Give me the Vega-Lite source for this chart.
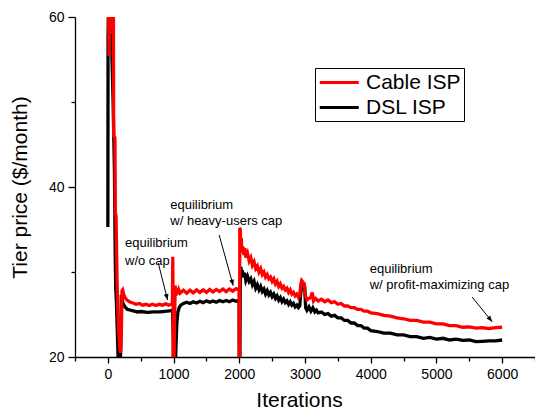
{
  "$schema": "https://vega.github.io/schema/vega-lite/v6.json",
  "width": 460,
  "height": 340,
  "autosize": {"type": "none"},
  "padding": {"left": 75, "top": 17, "right": 0, "bottom": 58},
  "background": "white",
  "config": {
    "view": {"stroke": null},
    "font": "Liberation Sans",
    "axis": {
      "grid": false,
      "domainColor": "#000",
      "domainWidth": 1.3,
      "tickColor": "#000",
      "tickWidth": 1.3,
      "labelColor": "#000",
      "labelFont": "Liberation Sans",
      "labelFontSize": 14,
      "titleFont": "Liberation Sans",
      "titleFontSize": 21,
      "titleFontWeight": "normal",
      "titleColor": "#000",
      "labelOverlap": false,
      "labelFlush": false
    }
  },
  "datasets": {
    "series": [
      {"s": "DSL ISP", "x": 0, "y": 35.3}, {"s": "DSL ISP", "x": 3, "y": 57.4}, {"s": "DSL ISP", "x": 8, "y": 61}, {"s": "DSL ISP", "x": 20, "y": 60}, {"s": "DSL ISP", "x": 40, "y": 58}, {"s": "DSL ISP", "x": 60, "y": 56}, {"s": "DSL ISP", "x": 80, "y": 50}, {"s": "DSL ISP", "x": 100, "y": 42}, {"s": "DSL ISP", "x": 112, "y": 32}, {"s": "DSL ISP", "x": 120, "y": 28.1}, {"s": "DSL ISP", "x": 130, "y": 26.5}, {"s": "DSL ISP", "x": 140, "y": 24}, {"s": "DSL ISP", "x": 150, "y": 21.5}, {"s": "DSL ISP", "x": 160, "y": 19}, {"s": "DSL ISP", "x": 175, "y": 18.5}, {"s": "DSL ISP", "x": 190, "y": 19.5}, {"s": "DSL ISP", "x": 198, "y": 22}, {"s": "DSL ISP", "x": 205, "y": 27.3}, {"s": "DSL ISP", "x": 215, "y": 26.8}, {"s": "DSL ISP", "x": 230, "y": 26.3}, {"s": "DSL ISP", "x": 260, "y": 25.9}, {"s": "DSL ISP", "x": 300, "y": 25.6}, {"s": "DSL ISP", "x": 350, "y": 25.5}, {"s": "DSL ISP", "x": 400, "y": 25.4}, {"s": "DSL ISP", "x": 450, "y": 25.3}, {"s": "DSL ISP", "x": 500, "y": 25.35}, {"s": "DSL ISP", "x": 600, "y": 25.25}, {"s": "DSL ISP", "x": 700, "y": 25.3}, {"s": "DSL ISP", "x": 800, "y": 25.3}, {"s": "DSL ISP", "x": 900, "y": 25.4}, {"s": "DSL ISP", "x": 960, "y": 25.45}, {"s": "DSL ISP", "x": 985, "y": 25.5}, {"s": "DSL ISP", "x": 995, "y": 22}, {"s": "DSL ISP", "x": 1000, "y": 17}, {"s": "DSL ISP", "x": 1020, "y": 17}, {"s": "DSL ISP", "x": 1035, "y": 21}, {"s": "DSL ISP", "x": 1050, "y": 24}, {"s": "DSL ISP", "x": 1065, "y": 25.3}, {"s": "DSL ISP", "x": 1085, "y": 25.8}, {"s": "DSL ISP", "x": 1110, "y": 26.1}, {"s": "DSL ISP", "x": 1150, "y": 26.3}, {"s": "DSL ISP", "x": 1200, "y": 26.45}, {"s": "DSL ISP", "x": 1250, "y": 26.3}, {"s": "DSL ISP", "x": 1300, "y": 26.5}, {"s": "DSL ISP", "x": 1350, "y": 26.35}, {"s": "DSL ISP", "x": 1400, "y": 26.55}, {"s": "DSL ISP", "x": 1450, "y": 26.4}, {"s": "DSL ISP", "x": 1500, "y": 26.6}, {"s": "DSL ISP", "x": 1550, "y": 26.45}, {"s": "DSL ISP", "x": 1600, "y": 26.6}, {"s": "DSL ISP", "x": 1650, "y": 26.45}, {"s": "DSL ISP", "x": 1700, "y": 26.65}, {"s": "DSL ISP", "x": 1750, "y": 26.5}, {"s": "DSL ISP", "x": 1800, "y": 26.65}, {"s": "DSL ISP", "x": 1850, "y": 26.5}, {"s": "DSL ISP", "x": 1900, "y": 26.7}, {"s": "DSL ISP", "x": 1950, "y": 26.55}, {"s": "DSL ISP", "x": 1990, "y": 26.65}, {"s": "DSL ISP", "x": 1998, "y": 26.6}, {"s": "DSL ISP", "x": 2000, "y": 18}, {"s": "DSL ISP", "x": 2008, "y": 18}, {"s": "DSL ISP", "x": 2015, "y": 28.5}, {"s": "DSL ISP", "x": 2025, "y": 30.6}, {"s": "DSL ISP", "x": 2035, "y": 29.6}, {"s": "DSL ISP", "x": 2045, "y": 30.2}, {"s": "DSL ISP", "x": 2060, "y": 29.4}, {"s": "DSL ISP", "x": 2080, "y": 29.9}, {"s": "DSL ISP", "x": 2100, "y": 29.0}, {"s": "DSL ISP", "x": 2125, "y": 29.5}, {"s": "DSL ISP", "x": 2150, "y": 28.9}, {"s": "DSL ISP", "x": 2175, "y": 29.2}, {"s": "DSL ISP", "x": 2200, "y": 28.5}, {"s": "DSL ISP", "x": 2225, "y": 28.9}, {"s": "DSL ISP", "x": 2250, "y": 28.1}, {"s": "DSL ISP", "x": 2275, "y": 28.5}, {"s": "DSL ISP", "x": 2300, "y": 27.9}, {"s": "DSL ISP", "x": 2325, "y": 28.3}, {"s": "DSL ISP", "x": 2350, "y": 27.7}, {"s": "DSL ISP", "x": 2375, "y": 28.0}, {"s": "DSL ISP", "x": 2400, "y": 27.4}, {"s": "DSL ISP", "x": 2425, "y": 27.8}, {"s": "DSL ISP", "x": 2450, "y": 27.3}, {"s": "DSL ISP", "x": 2475, "y": 27.6}, {"s": "DSL ISP", "x": 2500, "y": 27.1}, {"s": "DSL ISP", "x": 2525, "y": 27.4}, {"s": "DSL ISP", "x": 2550, "y": 26.9}, {"s": "DSL ISP", "x": 2575, "y": 27.2}, {"s": "DSL ISP", "x": 2600, "y": 26.7}, {"s": "DSL ISP", "x": 2625, "y": 27.0}, {"s": "DSL ISP", "x": 2650, "y": 26.5}, {"s": "DSL ISP", "x": 2675, "y": 26.8}, {"s": "DSL ISP", "x": 2700, "y": 26.4}, {"s": "DSL ISP", "x": 2725, "y": 26.6}, {"s": "DSL ISP", "x": 2750, "y": 26.2}, {"s": "DSL ISP", "x": 2775, "y": 26.5}, {"s": "DSL ISP", "x": 2800, "y": 26.1}, {"s": "DSL ISP", "x": 2825, "y": 26.3}, {"s": "DSL ISP", "x": 2850, "y": 25.9}, {"s": "DSL ISP", "x": 2875, "y": 26.1}, {"s": "DSL ISP", "x": 2900, "y": 25.8}, {"s": "DSL ISP", "x": 2920, "y": 26.0}, {"s": "DSL ISP", "x": 2935, "y": 27.5}, {"s": "DSL ISP", "x": 2950, "y": 28.3}, {"s": "DSL ISP", "x": 2975, "y": 28.4}, {"s": "DSL ISP", "x": 2995, "y": 28.2}, {"s": "DSL ISP", "x": 3010, "y": 25.8}, {"s": "DSL ISP", "x": 3030, "y": 25.5}, {"s": "DSL ISP", "x": 3060, "y": 25.9}, {"s": "DSL ISP", "x": 3090, "y": 25.4}, {"s": "DSL ISP", "x": 3120, "y": 25.8}, {"s": "DSL ISP", "x": 3150, "y": 25.3}, {"s": "DSL ISP", "x": 3175, "y": 25.5}, {"s": "DSL ISP", "x": 3200, "y": 25.2}, {"s": "DSL ISP", "x": 3250, "y": 25.3}, {"s": "DSL ISP", "x": 3300, "y": 25.0}, {"s": "DSL ISP", "x": 3350, "y": 25.1}, {"s": "DSL ISP", "x": 3400, "y": 24.8}, {"s": "DSL ISP", "x": 3450, "y": 24.9}, {"s": "DSL ISP", "x": 3500, "y": 24.6}, {"s": "DSL ISP", "x": 3550, "y": 24.6}, {"s": "DSL ISP", "x": 3600, "y": 24.3}, {"s": "DSL ISP", "x": 3650, "y": 24.3}, {"s": "DSL ISP", "x": 3700, "y": 24.0}, {"s": "DSL ISP", "x": 3750, "y": 24.0}, {"s": "DSL ISP", "x": 3800, "y": 23.7}, {"s": "DSL ISP", "x": 3850, "y": 23.7}, {"s": "DSL ISP", "x": 3900, "y": 23.4}, {"s": "DSL ISP", "x": 3950, "y": 23.4}, {"s": "DSL ISP", "x": 4000, "y": 23.1}, {"s": "DSL ISP", "x": 4100, "y": 23.0}, {"s": "DSL ISP", "x": 4200, "y": 22.8}, {"s": "DSL ISP", "x": 4300, "y": 22.8}, {"s": "DSL ISP", "x": 4400, "y": 22.6}, {"s": "DSL ISP", "x": 4500, "y": 22.6}, {"s": "DSL ISP", "x": 4600, "y": 22.4}, {"s": "DSL ISP", "x": 4700, "y": 22.4}, {"s": "DSL ISP", "x": 4800, "y": 22.2}, {"s": "DSL ISP", "x": 4900, "y": 22.3}, {"s": "DSL ISP", "x": 5000, "y": 22.1}, {"s": "DSL ISP", "x": 5100, "y": 22.2}, {"s": "DSL ISP", "x": 5200, "y": 22.0}, {"s": "DSL ISP", "x": 5300, "y": 22.1}, {"s": "DSL ISP", "x": 5400, "y": 21.95}, {"s": "DSL ISP", "x": 5500, "y": 22.0}, {"s": "DSL ISP", "x": 5600, "y": 21.8}, {"s": "DSL ISP", "x": 5700, "y": 21.85}, {"s": "DSL ISP", "x": 5800, "y": 21.9}, {"s": "DSL ISP", "x": 5900, "y": 21.9}, {"s": "DSL ISP", "x": 6000, "y": 22.0},

      {"s": "Cable ISP", "x": 10, "y": 62}, {"s": "Cable ISP", "x": 18, "y": 55.4}, {"s": "Cable ISP", "x": 26, "y": 62}, {"s": "Cable ISP", "x": 40, "y": 63}, {"s": "Cable ISP", "x": 55, "y": 58}, {"s": "Cable ISP", "x": 62, "y": 63}, {"s": "Cable ISP", "x": 75, "y": 62}, {"s": "Cable ISP", "x": 85, "y": 60}, {"s": "Cable ISP", "x": 88, "y": 46}, {"s": "Cable ISP", "x": 108, "y": 45.8}, {"s": "Cable ISP", "x": 113, "y": 37}, {"s": "Cable ISP", "x": 125, "y": 36.5}, {"s": "Cable ISP", "x": 132, "y": 33}, {"s": "Cable ISP", "x": 140, "y": 29}, {"s": "Cable ISP", "x": 150, "y": 26}, {"s": "Cable ISP", "x": 160, "y": 24}, {"s": "Cable ISP", "x": 172, "y": 22}, {"s": "Cable ISP", "x": 185, "y": 20.8}, {"s": "Cable ISP", "x": 195, "y": 20.5}, {"s": "Cable ISP", "x": 205, "y": 22.5}, {"s": "Cable ISP", "x": 215, "y": 27.8}, {"s": "Cable ISP", "x": 225, "y": 27.9}, {"s": "Cable ISP", "x": 240, "y": 27.4}, {"s": "Cable ISP", "x": 260, "y": 27.0}, {"s": "Cable ISP", "x": 290, "y": 26.7}, {"s": "Cable ISP", "x": 330, "y": 26.5}, {"s": "Cable ISP", "x": 380, "y": 26.35}, {"s": "Cable ISP", "x": 430, "y": 26.2}, {"s": "Cable ISP", "x": 480, "y": 26.3}, {"s": "Cable ISP", "x": 530, "y": 26.1}, {"s": "Cable ISP", "x": 580, "y": 26.2}, {"s": "Cable ISP", "x": 630, "y": 26.05}, {"s": "Cable ISP", "x": 680, "y": 26.2}, {"s": "Cable ISP", "x": 730, "y": 26.05}, {"s": "Cable ISP", "x": 780, "y": 26.2}, {"s": "Cable ISP", "x": 830, "y": 26.1}, {"s": "Cable ISP", "x": 880, "y": 26.25}, {"s": "Cable ISP", "x": 930, "y": 26.1}, {"s": "Cable ISP", "x": 970, "y": 26.25}, {"s": "Cable ISP", "x": 982, "y": 26.3}, {"s": "Cable ISP", "x": 988, "y": 31.8}, {"s": "Cable ISP", "x": 993, "y": 26}, {"s": "Cable ISP", "x": 997, "y": 18}, {"s": "Cable ISP", "x": 1005, "y": 18}, {"s": "Cable ISP", "x": 1015, "y": 24}, {"s": "Cable ISP", "x": 1025, "y": 28.4}, {"s": "Cable ISP", "x": 1035, "y": 27.2}, {"s": "Cable ISP", "x": 1050, "y": 28.1}, {"s": "Cable ISP", "x": 1065, "y": 27.4}, {"s": "Cable ISP", "x": 1080, "y": 27.9}, {"s": "Cable ISP", "x": 1100, "y": 27.5}, {"s": "Cable ISP", "x": 1150, "y": 27.85}, {"s": "Cable ISP", "x": 1200, "y": 27.5}, {"s": "Cable ISP", "x": 1250, "y": 27.85}, {"s": "Cable ISP", "x": 1300, "y": 27.55}, {"s": "Cable ISP", "x": 1350, "y": 27.9}, {"s": "Cable ISP", "x": 1400, "y": 27.6}, {"s": "Cable ISP", "x": 1450, "y": 27.9}, {"s": "Cable ISP", "x": 1500, "y": 27.6}, {"s": "Cable ISP", "x": 1550, "y": 27.95}, {"s": "Cable ISP", "x": 1600, "y": 27.65}, {"s": "Cable ISP", "x": 1650, "y": 27.95}, {"s": "Cable ISP", "x": 1700, "y": 27.7}, {"s": "Cable ISP", "x": 1750, "y": 28.0}, {"s": "Cable ISP", "x": 1800, "y": 27.7}, {"s": "Cable ISP", "x": 1850, "y": 28.0}, {"s": "Cable ISP", "x": 1900, "y": 27.75}, {"s": "Cable ISP", "x": 1950, "y": 28.05}, {"s": "Cable ISP", "x": 1990, "y": 27.9}, {"s": "Cable ISP", "x": 1996, "y": 27.9}, {"s": "Cable ISP", "x": 2000, "y": 18}, {"s": "Cable ISP", "x": 2004, "y": 18}, {"s": "Cable ISP", "x": 2008, "y": 35.2}, {"s": "Cable ISP", "x": 2015, "y": 35.0}, {"s": "Cable ISP", "x": 2022, "y": 33.2}, {"s": "Cable ISP", "x": 2030, "y": 34.0}, {"s": "Cable ISP", "x": 2040, "y": 32.3}, {"s": "Cable ISP", "x": 2055, "y": 33.0}, {"s": "Cable ISP", "x": 2070, "y": 32.0}, {"s": "Cable ISP", "x": 2085, "y": 32.8}, {"s": "Cable ISP", "x": 2100, "y": 31.7}, {"s": "Cable ISP", "x": 2125, "y": 32.2}, {"s": "Cable ISP", "x": 2150, "y": 31.3}, {"s": "Cable ISP", "x": 2175, "y": 31.7}, {"s": "Cable ISP", "x": 2200, "y": 30.8}, {"s": "Cable ISP", "x": 2225, "y": 31.2}, {"s": "Cable ISP", "x": 2250, "y": 30.4}, {"s": "Cable ISP", "x": 2275, "y": 30.7}, {"s": "Cable ISP", "x": 2300, "y": 30.0}, {"s": "Cable ISP", "x": 2325, "y": 30.4}, {"s": "Cable ISP", "x": 2350, "y": 29.7}, {"s": "Cable ISP", "x": 2375, "y": 30.0}, {"s": "Cable ISP", "x": 2400, "y": 29.4}, {"s": "Cable ISP", "x": 2425, "y": 29.7}, {"s": "Cable ISP", "x": 2450, "y": 29.2}, {"s": "Cable ISP", "x": 2475, "y": 29.4}, {"s": "Cable ISP", "x": 2500, "y": 28.9}, {"s": "Cable ISP", "x": 2525, "y": 29.2}, {"s": "Cable ISP", "x": 2550, "y": 28.6}, {"s": "Cable ISP", "x": 2575, "y": 28.9}, {"s": "Cable ISP", "x": 2600, "y": 28.3}, {"s": "Cable ISP", "x": 2625, "y": 28.6}, {"s": "Cable ISP", "x": 2650, "y": 28.1}, {"s": "Cable ISP", "x": 2675, "y": 28.3}, {"s": "Cable ISP", "x": 2700, "y": 27.9}, {"s": "Cable ISP", "x": 2725, "y": 28.1}, {"s": "Cable ISP", "x": 2750, "y": 27.6}, {"s": "Cable ISP", "x": 2775, "y": 27.9}, {"s": "Cable ISP", "x": 2800, "y": 27.4}, {"s": "Cable ISP", "x": 2825, "y": 27.6}, {"s": "Cable ISP", "x": 2850, "y": 27.2}, {"s": "Cable ISP", "x": 2875, "y": 27.4}, {"s": "Cable ISP", "x": 2900, "y": 27.0}, {"s": "Cable ISP", "x": 2920, "y": 27.2}, {"s": "Cable ISP", "x": 2935, "y": 28.5}, {"s": "Cable ISP", "x": 2950, "y": 29.0}, {"s": "Cable ISP", "x": 2970, "y": 28.8}, {"s": "Cable ISP", "x": 2990, "y": 28.6}, {"s": "Cable ISP", "x": 3005, "y": 27.2}, {"s": "Cable ISP", "x": 3030, "y": 26.7}, {"s": "Cable ISP", "x": 3060, "y": 26.9}, {"s": "Cable ISP", "x": 3090, "y": 27.0}, {"s": "Cable ISP", "x": 3110, "y": 27.6}, {"s": "Cable ISP", "x": 3130, "y": 26.6}, {"s": "Cable ISP", "x": 3160, "y": 26.9}, {"s": "Cable ISP", "x": 3200, "y": 26.6}, {"s": "Cable ISP", "x": 3250, "y": 26.8}, {"s": "Cable ISP", "x": 3300, "y": 26.5}, {"s": "Cable ISP", "x": 3350, "y": 26.7}, {"s": "Cable ISP", "x": 3400, "y": 26.4}, {"s": "Cable ISP", "x": 3450, "y": 26.5}, {"s": "Cable ISP", "x": 3500, "y": 26.2}, {"s": "Cable ISP", "x": 3550, "y": 26.3}, {"s": "Cable ISP", "x": 3600, "y": 26.0}, {"s": "Cable ISP", "x": 3650, "y": 26.0}, {"s": "Cable ISP", "x": 3700, "y": 25.8}, {"s": "Cable ISP", "x": 3750, "y": 25.8}, {"s": "Cable ISP", "x": 3800, "y": 25.6}, {"s": "Cable ISP", "x": 3850, "y": 25.6}, {"s": "Cable ISP", "x": 3900, "y": 25.4}, {"s": "Cable ISP", "x": 3950, "y": 25.4}, {"s": "Cable ISP", "x": 4000, "y": 25.2}, {"s": "Cable ISP", "x": 4100, "y": 25.1}, {"s": "Cable ISP", "x": 4200, "y": 24.9}, {"s": "Cable ISP", "x": 4300, "y": 24.8}, {"s": "Cable ISP", "x": 4400, "y": 24.6}, {"s": "Cable ISP", "x": 4500, "y": 24.5}, {"s": "Cable ISP", "x": 4600, "y": 24.3}, {"s": "Cable ISP", "x": 4700, "y": 24.3}, {"s": "Cable ISP", "x": 4800, "y": 24.1}, {"s": "Cable ISP", "x": 4900, "y": 24.1}, {"s": "Cable ISP", "x": 5000, "y": 23.9}, {"s": "Cable ISP", "x": 5100, "y": 23.9}, {"s": "Cable ISP", "x": 5200, "y": 23.7}, {"s": "Cable ISP", "x": 5300, "y": 23.7}, {"s": "Cable ISP", "x": 5400, "y": 23.5}, {"s": "Cable ISP", "x": 5500, "y": 23.55}, {"s": "Cable ISP", "x": 5600, "y": 23.4}, {"s": "Cable ISP", "x": 5700, "y": 23.45}, {"s": "Cable ISP", "x": 5800, "y": 23.35}, {"s": "Cable ISP", "x": 5900, "y": 23.45}, {"s": "Cable ISP", "x": 6000, "y": 23.5}
    ],
    "notes": [
      {"x": 261, "y": 33.4, "t": "equilibrium"},
      {"x": 261, "y": 31.3, "t": "w/o cap"},
      {"x": 950, "y": 37.9, "t": "equilibrium"},
      {"x": 950, "y": 36.0, "t": "w/ heavy-users cap"},
      {"x": 3985, "y": 30.35, "t": "equilibrium"},
      {"x": 3985, "y": 28.5, "t": "w/ profit-maximizing cap"}
    ],
    "arrows": [
      {"k": "a", "x": 767, "y": 31.06, "x2": 909, "y2": 26.7},
      {"k": "b", "x": 1694, "y": 34.35, "x2": 1907, "y2": 28.4},
      {"k": "c", "x": 5544, "y": 27.05, "x2": 5848, "y2": 24.15}
    ]
  },
  "encoding": {
    "x": {
      "field": "x", "type": "quantitative",
      "scale": {"domain": [-500, 6500], "nice": false, "zero": false},
      "axis": {
        "title": "Iterations",
        "values": [-500, 0, 500, 1000, 1500, 2000, 2500, 3000, 3500, 4000, 4500, 5000, 5500, 6000, 6500],
        "format": "d",
        "labelExpr": "(datum.value % 1000 === 0 && datum.value >= 0 && datum.value <= 6000) ? datum.label : ''",
        "tickSize": {"condition": {"test": "datum.value % 1000 === 0", "value": 6}, "value": 4},
        "labelPadding": 4,
        "titlePadding": 8,
        "titleX": 224
      }
    },
    "y": {
      "field": "y", "type": "quantitative",
      "scale": {"domain": [20, 60], "nice": false, "zero": false},
      "axis": {
        "title": "Tier price ($/month)",
        "values": [20, 30, 40, 50, 60],
        "labelExpr": "datum.value % 20 === 0 ? datum.label : ''",
        "tickSize": {"condition": {"test": "datum.value % 20 === 0", "value": 7}, "value": 4},
        "labelPadding": 4,
        "titlePadding": 18
      }
    }
  },
  "layer": [
    {
      "data": {"name": "series"},
      "transform": [{"filter": "datum.s === 'DSL ISP'"}],
      "mark": {"type": "line", "clip": true, "strokeWidth": 3.3},
      "encoding": {
        "color": {
          "field": "s", "type": "nominal",
          "scale": {"domain": ["Cable ISP", "DSL ISP"], "range": ["#ff0000", "#000000"]},
          "legend": {
            "title": null, "orient": "none", "legendX": 240, "legendY": 51,
            "symbolType": "M-1,0H3", "symbolSize": 380, "symbolStrokeWidth": 3,
            "labelFontSize": 21, "labelFont": "Liberation Sans", "labelColor": "#000",
            "labelOffset": 25, "strokeColor": "#000", "fillColor": "white",
            "padding": 3, "rowPadding": 3, "cornerRadius": 0
          }
        }
      }
    },
    {
      "data": {"name": "series"},
      "transform": [{"filter": "datum.s === 'Cable ISP'"}],
      "mark": {"type": "line", "clip": true, "strokeWidth": 3.3},
      "encoding": {
        "color": {"field": "s", "type": "nominal"}
      }
    },
    {
      "data": {"name": "notes"},
      "mark": {"type": "text", "align": "left", "baseline": "middle", "fontSize": 13, "font": "Liberation Sans", "color": "#000"},
      "encoding": {"text": {"field": "t"}}
    },
    {
      "data": {"name": "arrows"},
      "mark": {"type": "rule", "color": "#000", "strokeWidth": 1},
      "encoding": {"x2": {"field": "x2"}, "y2": {"field": "y2"}}
    },
    {
      "data": {"name": "arrows"},
      "transform": [{"filter": "datum.k === 'a'"}],
      "mark": {"type": "point", "shape": "M0,0L-0.4,1L0.4,1Z", "filled": true, "color": "#000", "opacity": 1, "size": 144, "angle": 166},
      "encoding": {
        "x": {"field": "x2", "type": "quantitative", "scale": {"domain": [-500, 6500], "nice": false, "zero": false}},
        "y": {"field": "y2", "type": "quantitative", "scale": {"domain": [20, 60], "nice": false, "zero": false}}
      }
    },
    {
      "data": {"name": "arrows"},
      "transform": [{"filter": "datum.k === 'b'"}],
      "mark": {"type": "point", "shape": "M0,0L-0.4,1L0.4,1Z", "filled": true, "color": "#000", "opacity": 1, "size": 144, "angle": 165},
      "encoding": {
        "x": {"field": "x2", "type": "quantitative", "scale": {"domain": [-500, 6500], "nice": false, "zero": false}},
        "y": {"field": "y2", "type": "quantitative", "scale": {"domain": [20, 60], "nice": false, "zero": false}}
      }
    },
    {
      "data": {"name": "arrows"},
      "transform": [{"filter": "datum.k === 'c'"}],
      "mark": {"type": "point", "shape": "M0,0L-0.4,1L0.4,1Z", "filled": true, "color": "#000", "opacity": 1, "size": 144, "angle": 141},
      "encoding": {
        "x": {"field": "x2", "type": "quantitative", "scale": {"domain": [-500, 6500], "nice": false, "zero": false}},
        "y": {"field": "y2", "type": "quantitative", "scale": {"domain": [20, 60], "nice": false, "zero": false}}
      }
    }
  ]
}
